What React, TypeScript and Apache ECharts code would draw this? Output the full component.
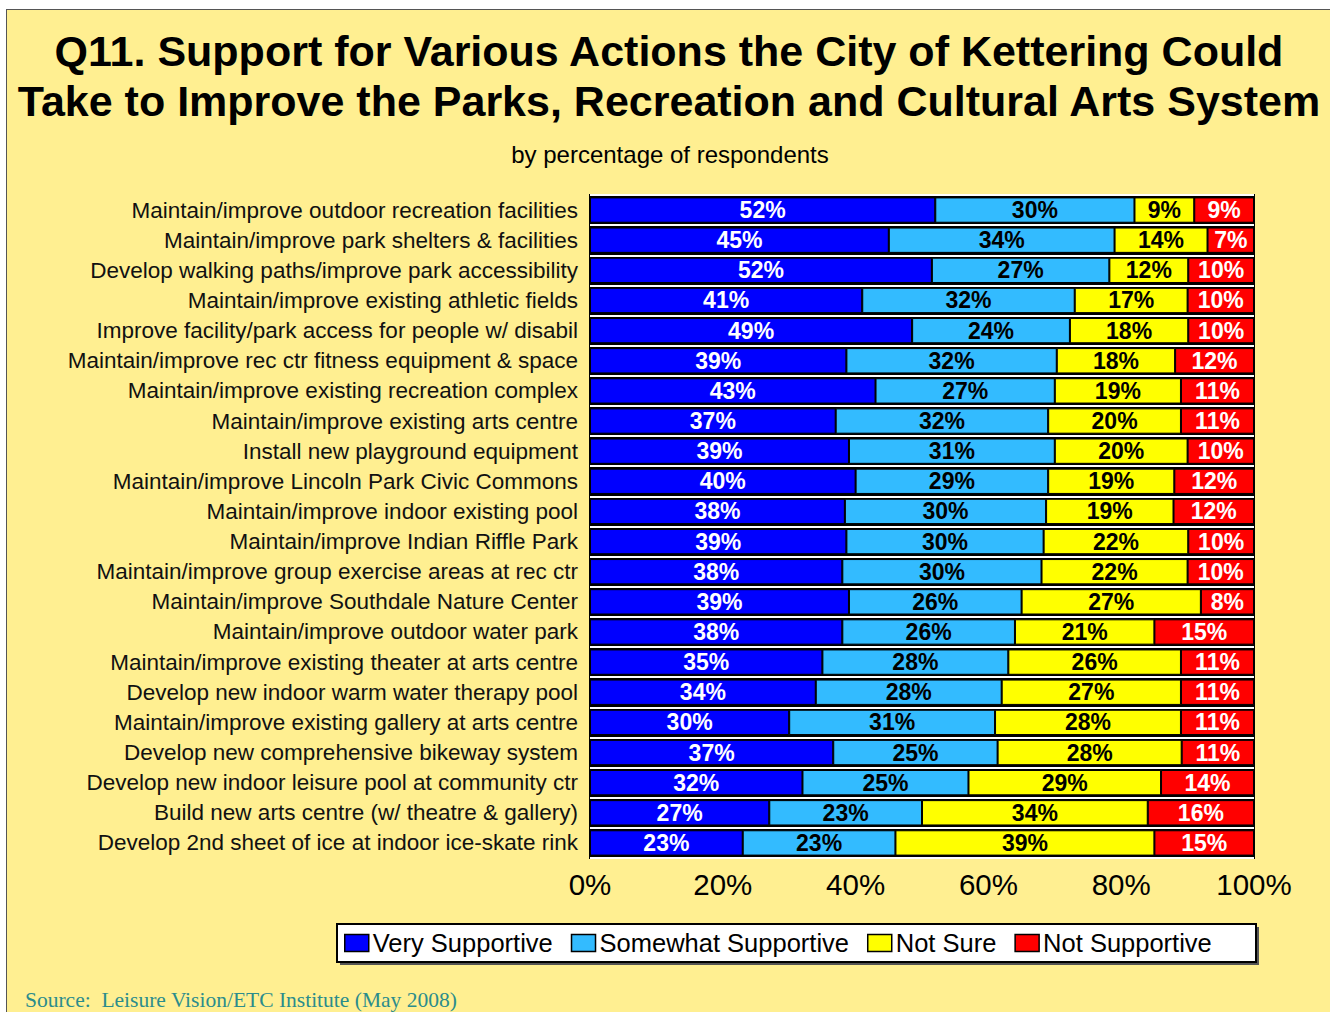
import React, { useEffect, useRef } from "react";
import * as echarts from "echarts";

const categories = [
  "Maintain/improve outdoor recreation facilities",
  "Maintain/improve park shelters & facilities",
  "Develop walking paths/improve park accessibility",
  "Maintain/improve existing athletic fields",
  "Improve facility/park access for people w/ disabil",
  "Maintain/improve rec ctr fitness equipment & space",
  "Maintain/improve existing recreation complex",
  "Maintain/improve existing arts centre",
  "Install new playground equipment",
  "Maintain/improve Lincoln Park Civic Commons",
  "Maintain/improve indoor existing pool",
  "Maintain/improve Indian Riffle Park",
  "Maintain/improve group exercise areas at rec ctr",
  "Maintain/improve Southdale Nature Center",
  "Maintain/improve outdoor water park",
  "Maintain/improve existing theater at arts centre",
  "Develop new indoor warm water therapy pool",
  "Maintain/improve existing gallery at arts centre",
  "Develop new comprehensive bikeway system",
  "Develop new indoor leisure pool at community ctr",
  "Build new arts centre (w/ theatre & gallery)",
  "Develop 2nd sheet of ice at indoor ice-skate rink",
];

const verySupportive = [52, 45, 52, 41, 49, 39, 43, 37, 39, 40, 38, 39, 38, 39, 38, 35, 34, 30, 37, 32, 27, 23];
const somewhatSupportive = [30, 34, 27, 32, 24, 32, 27, 32, 31, 29, 30, 30, 30, 26, 26, 28, 28, 31, 25, 25, 23, 23];
const notSure = [9, 14, 12, 17, 18, 18, 19, 20, 20, 19, 19, 22, 22, 27, 21, 26, 27, 28, 28, 29, 34, 39];
const notSupportive = [9, 7, 10, 10, 10, 12, 11, 11, 10, 12, 12, 10, 10, 8, 15, 11, 11, 11, 11, 14, 16, 15];

const seriesNames = ["Very Supportive", "Somewhat Supportive", "Not Sure", "Not Supportive"];
const xTickLabels = ["0%", "20%", "40%", "60%", "80%", "100%"];

const seriesValues = [verySupportive, somewhatSupportive, notSure, notSupportive];
const seriesColors = ["#0000ff", "#33bbff", "#ffff00", "#ff0000"];
const labelColors = ["#ffffff", "#000000", "#000000", "#ffffff"];

const BG = "#ffef91";
const SANS = "'Liberation Sans', Arial, sans-serif";

export default function App() {
  const ref = useRef<HTMLDivElement>(null);

  useEffect(() => {
    document.body.style.margin = "0";
    if (!ref.current) return;
    const chart = echarts.init(ref.current, null, { renderer: "svg" });

    const totals = categories.map((_, i) =>
      seriesValues.reduce((s, arr) => s + arr[i], 0)
    );

    const series = seriesValues.map((arr, si) => ({
      name: seriesNames[si],
      type: "bar",
      stack: "total",
      barCategoryGap: "16%",
      itemStyle: { color: seriesColors[si], borderColor: "#000", borderWidth: 1 },
      label: {
        show: true,
        position: "inside",
        color: labelColors[si],
        fontSize: 23,
        fontWeight: "bold",
        fontFamily: SANS,
        formatter: (p: any) => p.data.raw + "%",
      },
      data: arr.map((v, i) => ({ value: (v / totals[i]) * 100, raw: v })),
    }));

    const option: any = {
      animation: false,
      backgroundColor: "transparent",
      title: [
        {
          text: "Q11. Support for Various Actions the City of Kettering Could\nTake to Improve the Parks, Recreation and Cultural Arts System",
          left: 664,
          top: 21,
          textAlign: "center",
          textStyle: {
            fontSize: 43,
            lineHeight: 50,
            fontWeight: "bold",
            color: "#000",
            fontFamily: SANS,
          },
        },
        {
          text: "by percentage of respondents",
          left: 665,
          top: 137,
          textAlign: "center",
          textStyle: {
            fontSize: 24,
            fontWeight: "normal",
            color: "#000",
            fontFamily: SANS,
          },
        },
      ],
      legend: {
        data: seriesNames,
        left: 344,
        top: 930,
        padding: 0,
        icon: "rect",
        itemWidth: 24,
        itemHeight: 17,
        itemGap: 18,
        itemStyle: { borderColor: "#000", borderWidth: 1.5 },
        textStyle: {
          fontSize: 25.5,
          color: "#000",
          padding: [0, 0, 0, -1],
          fontFamily: SANS,
        },
      },
      grid: {
        left: 590,
        top: 195,
        width: 664,
        height: 663,
        show: true,
        backgroundColor: "#000",
        borderColor: "#000",
        borderWidth: 2,
        containLabel: false,
      },
      xAxis: {
        type: "value",
        min: 0,
        max: 100,
        interval: 20,
        axisLine: { show: false },
        axisTick: { show: false },
        splitLine: { show: false },
        axisLabel: {
          margin: 11,
          fontSize: 29.5,
          color: "#000",
          fontFamily: SANS,
          formatter: (v: number) => xTickLabels[Math.round(v / 20)],
        },
      },
      yAxis: {
        type: "category",
        data: categories,
        inverse: true,
        axisLine: { show: false },
        axisTick: { show: false },
        splitLine: { show: true, lineStyle: { color: "#ffffff", width: 2 } },
        axisLabel: {
          margin: 12,
          fontSize: 22.5,
          color: "#111",
          fontFamily: SANS,
        },
      },
      graphic: [
        {
          type: "rect",
          z: 1,
          shape: { x: 340, y: 927, width: 919, height: 38 },
          style: { fill: "#555", stroke: "none" },
        },
        {
          type: "rect",
          z: 1,
          shape: { x: 337, y: 924, width: 919, height: 38 },
          style: { fill: "#ffffff", stroke: "#000", lineWidth: 2 },
        },
        {
          type: "text",
          z: 1,
          x: 25,
          y: 1000,
          style: {
            text: "Source:  Leisure Vision/ETC Institute (May 2008)",
            fill: "#2b8c8c",
            font: "21.5px 'Liberation Serif', 'Times New Roman', serif",
            textVerticalAlign: "middle",
          },
        },
      ],
      series,
    };

    chart.setOption(option);
    return () => chart.dispose();
  }, []);

  return (
    <div style={{ position: "relative", width: 1330, height: 1012, background: "#fff", overflow: "hidden" }}>
      <div
        style={{
          position: "absolute",
          left: 6,
          top: 9,
          width: 1400,
          height: 1100,
          background: BG,
          borderLeft: "1px solid #555",
          borderTop: "1px solid #555",
        }}
      />
      <div ref={ref} style={{ position: "absolute", left: 0, top: 0, width: 1330, height: 1012 }} />
    </div>
  );
}
